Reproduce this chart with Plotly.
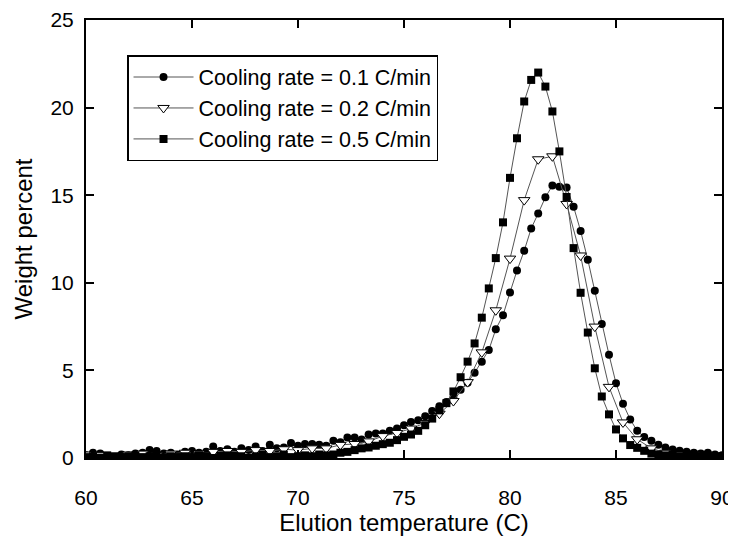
import plotly.graph_objects as go

# elution temperature grid (C)
temp_fine = [60.0, 60.33, 60.67, 61.0, 61.33, 61.67, 62.0, 62.33, 62.67, 63.0,
             63.33, 63.67, 64.0, 64.33, 64.67, 65.0, 65.33, 65.67, 66.0, 66.33,
             66.67, 67.0, 67.33, 67.67, 68.0, 68.33, 68.67, 69.0, 69.33, 69.67,
             70.0, 70.33, 70.67, 71.0, 71.33, 71.67, 72.0, 72.33, 72.67, 73.0,
             73.33, 73.67, 74.0, 74.33, 74.67, 75.0, 75.33, 75.67, 76.0, 76.33,
             76.67, 77.0, 77.33, 77.67, 78.0, 78.33, 78.67, 79.0, 79.33, 79.67,
             80.0, 80.33, 80.67, 81.0, 81.33, 81.67, 82.0, 82.33, 82.67, 83.0,
             83.33, 83.67, 84.0, 84.33, 84.67, 85.0, 85.33, 85.67, 86.0, 86.33,
             86.67, 87.0, 87.33, 87.67, 88.0, 88.33, 88.67, 89.0, 89.33, 89.67, 90.0]

temp_coarse = [60.0, 60.67, 61.33, 62.0, 62.67, 63.33, 64.0, 64.67, 65.33, 66.0,
               66.67, 67.33, 68.0, 68.67, 69.33, 70.0, 70.67, 71.33, 72.0, 72.67,
               73.33, 74.0, 74.67, 75.33, 76.0, 76.67, 77.33, 78.0, 78.67, 79.33,
               80.0, 80.67, 81.33, 82.0, 82.67, 83.33, 84.0, 84.67, 85.33, 86.0,
               86.67, 87.33, 88.0, 88.67, 89.33, 90.0]

# weight percent
rate_01 = [0.15, 0.30, 0.25, 0.10, 0.05, 0.20, 0.15, 0.25, 0.30, 0.45,
           0.40, 0.25, 0.30, 0.20, 0.35, 0.40, 0.30, 0.35, 0.65, 0.40,
           0.50, 0.35, 0.55, 0.45, 0.65, 0.40, 0.75, 0.55, 0.60, 0.85,
           0.70, 0.80, 0.80, 0.75, 0.70, 0.98, 0.90, 1.17, 1.17, 1.06,
           1.34, 1.40, 1.40, 1.55, 1.68, 1.87, 2.06, 2.15, 2.38, 2.68,
           2.95, 3.19, 3.44, 3.89, 4.30, 4.87, 5.50, 6.16, 7.35, 8.15,
           9.45, 10.70, 11.83, 13.10, 13.96, 14.88, 15.55, 15.48, 15.44, 14.34,
           12.96, 11.32, 9.54, 7.65, 5.89, 4.27, 3.10, 2.20, 1.55, 1.20,
           0.98, 0.76, 0.60, 0.49, 0.41, 0.36, 0.30, 0.25, 0.30, 0.20, 0.15]

rate_02 = [0.20, 0.15, 0.05, 0.20, 0.25, 0.15, 0.25, 0.30, 0.25, 0.35,
           0.40, 0.35, 0.45, 0.40, 0.50, 0.45, 0.55, 0.55, 0.75, 0.80,
           0.95, 1.25, 1.43, 1.68, 2.00, 2.53, 3.25, 4.33, 6.03, 8.43,
           11.38, 14.72, 17.05, 17.22, 14.50, 11.56, 7.50, 4.06, 2.03, 1.07,
           0.55, 0.30, 0.20, 0.15, 0.10, 0.05]

rate_05 = [0.05, 0.10, 0.00, 0.15, 0.10, 0.05, 0.10, 0.15, 0.05, 0.10,
           0.15, 0.00, 0.10, 0.05, 0.10, 0.05, 0.15, 0.10, 0.00, 0.10,
           0.15, 0.05, 0.10, 0.00, 0.10, 0.15, 0.05, 0.10, 0.20, 0.05,
           0.10, 0.15, 0.10, 0.20, 0.15, 0.20, 0.30, 0.35, 0.45, 0.55,
           0.60, 0.70, 0.79, 0.87, 1.02, 1.21, 1.34, 1.55, 1.87, 2.25,
           2.72, 3.13, 3.80, 4.61, 5.50, 6.54, 8.01, 9.68, 11.41, 13.45,
           15.99, 18.25, 20.35, 21.58, 22.00, 21.20, 19.78, 17.50, 14.90, 11.98,
           9.43, 7.16, 5.12, 3.51, 2.49, 1.63, 1.12, 0.74, 0.58, 0.41,
           0.25, 0.20, 0.15, 0.20, 0.10, 0.15, 0.20, 0.10, 0.15, 0.05, 0.10]

font = "Liberation Sans, Arial, sans-serif"
line_style = dict(color="#555555", width=1)

trace1 = go.Scatter(x=temp_fine, y=rate_01, mode="lines+markers",
                    name="Cooling rate = 0.1 C/min", line=line_style,
                    marker=dict(symbol="circle", size=8, color="black"))
trace2 = go.Scatter(x=temp_coarse, y=rate_02, mode="lines+markers",
                    name="Cooling rate = 0.2 C/min", line=line_style,
                    marker=dict(symbol="triangle-down", size=10, color="white",
                                line=dict(color="black", width=1)))
trace3 = go.Scatter(x=temp_fine, y=rate_05, mode="lines+markers",
                    name="Cooling rate = 0.5 C/min", line=line_style,
                    marker=dict(symbol="square", size=8, color="black"))

axis_common = dict(showline=True, linecolor="black", linewidth=2, mirror="ticks",
                   ticks="inside", ticklen=8, tickwidth=1.5, tickcolor="black",
                   showgrid=False, zeroline=False, automargin=False,
                   ticklabeloverflow="allow",
                   tickfont=dict(family=font, size=21, color="black"))

# page body keeps an 8px margin, so the figure is a bit smaller than the window
layout = go.Layout(
    width=728, height=531,
    margin=dict(l=78, r=14, t=12, b=81),
    paper_bgcolor="white", plot_bgcolor="white",
    font=dict(family=font, color="black"),
    xaxis=dict(range=[60, 90], tickvals=[60, 65, 70, 75, 80, 85, 90],
               ticklabelstandoff=20,
               title=dict(text="Elution temperature (C)", font=dict(family=font, size=24),
                          standoff=2),
               **axis_common),
    yaxis=dict(range=[0, 25], tickvals=[0, 5, 10, 15, 20, 25],
               ticklabelstandoff=6,
               title=dict(text="Weight percent", font=dict(family=font, size=24),
                          standoff=11),
               **axis_common),
    legend=dict(x=0.0645, y=0.92, xanchor="left", yanchor="top",
                bgcolor="white", bordercolor="black", borderwidth=1.5,
                font=dict(family=font, size=21.5), itemwidth=60,
                tracegroupgap=0),
    showlegend=True,
)

fig = go.Figure(data=[trace1, trace2, trace3], layout=layout)
fig.write_html("out.html")
